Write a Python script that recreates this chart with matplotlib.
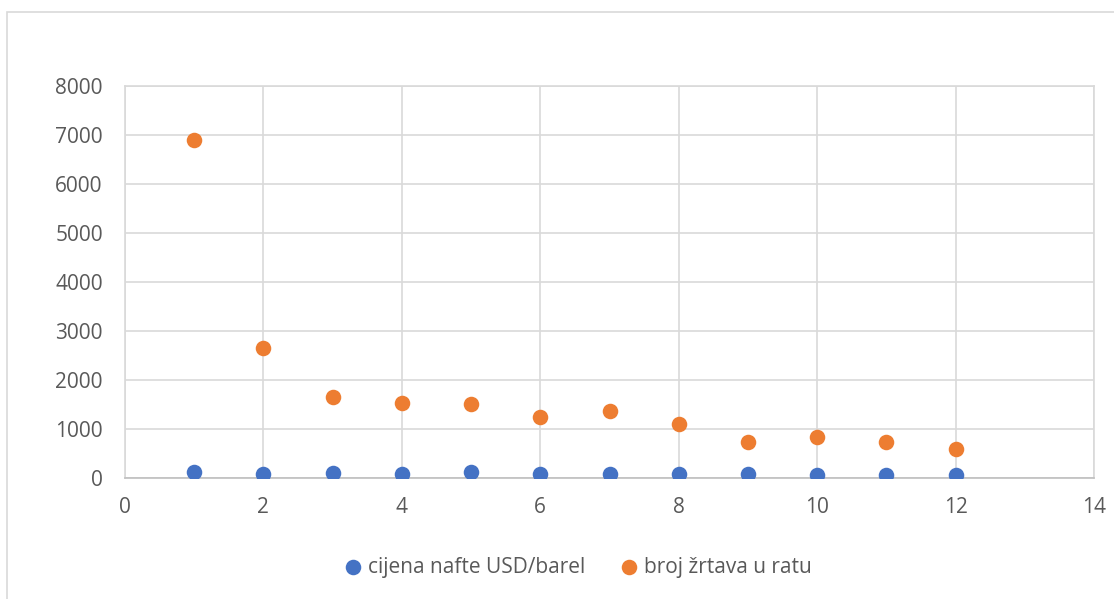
import matplotlib.pyplot as plt
from matplotlib.patches import Rectangle

x_vals = [1, 2, 3, 4, 5, 6, 7, 8, 9, 10, 11, 12]
cijena_nafte = [115, 75, 100, 75, 115, 75, 82, 88, 82, 68, 68, 65]
broj_zrtava = [6890, 2650, 1655, 1530, 1505, 1250, 1370, 1110, 735, 830, 740, 595]

x_ticks = [0, 2, 4, 6, 8, 10, 12, 14]
y_ticks = [0, 1000, 2000, 3000, 4000, 5000, 6000, 7000, 8000]

blue = '#4472C4'
orange = '#ED7D31'
grid_col = '#D9D9D9'
text_col = '#595959'

plt.rcParams['font.family'] = ['Open Sans', 'DejaVu Sans']

fig = plt.figure(figsize=(11.14, 5.99), dpi=100)
W, H = 1114, 599
ax = fig.add_axes([125 / W, 1 - 478 / H, (1094 - 125) / W, (478 - 86) / H])

# Outer chart border (cropped on right and bottom)
fig.patches.append(Rectangle((7 / W, -0.05), 1.2, 1 - 12 / H + 0.05,
                             transform=fig.transFigure, fill=False,
                             edgecolor=grid_col, linewidth=1.2))

ax.scatter(x_vals, cijena_nafte, s=125, color=blue, zorder=3,
           label='cijena nafte USD/barel', linewidths=0)
ax.scatter(x_vals, broj_zrtava, s=125, color=orange, zorder=3,
           label='broj žrtava u ratu', linewidths=0)

ax.set_xlim(0, 14)
ax.set_ylim(0, 8000)
ax.set_xticks(x_ticks)
ax.set_yticks(y_ticks)
ax.grid(True, color=grid_col, linewidth=1.2)
ax.set_axisbelow(True)
for side in ['top', 'right', 'left']:
    ax.spines[side].set_color(grid_col)
    ax.spines[side].set_linewidth(1.2)
ax.spines['bottom'].set_color('#BFBFBF')
ax.spines['bottom'].set_linewidth(1.2)
ax.tick_params(length=0, labelsize=15, labelcolor=text_col)
ax.tick_params(axis='x', pad=14)
ax.tick_params(axis='y', pad=16)

# legend is centred on the whole chart box, not on the plot area
ax.legend(loc='center', bbox_to_anchor=((572 - 125) / (1094 - 125),
                                        (1 - 567 / H - (1 - 478 / H)) / ((478 - 86) / H)),
          ncol=2, frameon=False, fontsize=15, labelcolor=text_col,
          handletextpad=-0.3, columnspacing=1.1, markerscale=1.0)

fig.savefig('out.png', dpi=100)
